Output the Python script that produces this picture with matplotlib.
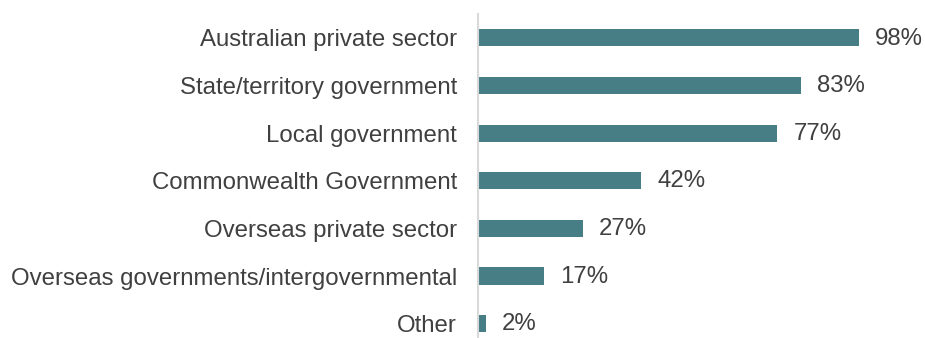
import matplotlib
matplotlib.use("Agg")
import matplotlib.pyplot as plt

plt.rcParams['font.family'] = ['Liberation Sans', 'DejaVu Sans']

# share of respondents working with each client type
sectors = [
    "Australian private sector",
    "State/territory government",
    "Local government",
    "Commonwealth Government",
    "Overseas private sector",
    "Overseas governments/intergovernmental",
    "Other",
]
shares = [98, 83, 77, 42, 27, 17, 2]

bar_color = "#477e86"
text_color = "#404040"

fig = plt.figure(figsize=(9.25, 3.38), dpi=100)
ax = fig.add_axes([478 / 925, -9.5 / 338, (866.8 - 478) / 925, (338 - 14 + 9.5) / 338])

pos = list(range(len(sectors)))
ax.barh(pos, shares, height=0.36, color=bar_color)
ax.set_ylim(len(sectors) - 0.5, -0.5)
ax.set_xlim(0, 100)

for y, v in zip(pos, shares):
    ax.annotate(f"{v}%", xy=(v, y), xytext=(11.5, -0.5), textcoords="offset points",
                ha="left", va="center", fontsize=17.3, color=text_color,
                annotation_clip=False)

ax.set_yticks(pos)
ax.set_yticklabels(sectors, fontsize=17.3, color=text_color)
ax.tick_params(axis="y", length=0, pad=15)
ax.set_xticks([])

for side in ["top", "right", "bottom"]:
    ax.spines[side].set_visible(False)
ax.spines["left"].set_color("#d9d9d9")
ax.spines["left"].set_linewidth(1.5)

fig.savefig("out.png", dpi=100)
